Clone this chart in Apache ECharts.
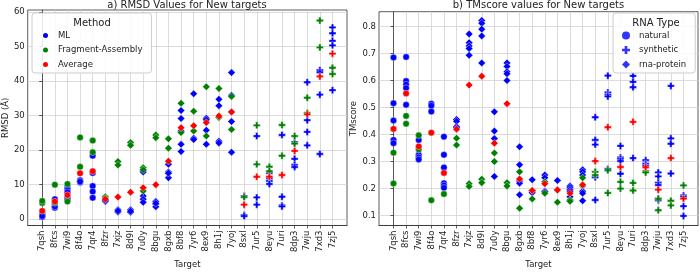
<!DOCTYPE html>
<html><head><meta charset="utf-8">
<script src="https://cdn.jsdelivr.net/npm/echarts@6/dist/echarts.min.js"></script>
<style>html,body{margin:0;padding:0;background:#fff}#c{width:700px;height:274px}</style>
</head><body><div id="c"></div>
<script>
const categories = ['7qsh','8fcs','7wi9','8f4o','7qr4','8fzr','7xjz','8d9l','7u0y','8bgu','8gxb','8bf8','7yr6','8ex9','8h1j','7yoj','8sxl','7ur5','8eyu','7uri','8dp3','7wju','7xd3','7zj5'];
const rnaTypes = ['natural','natural','natural','natural','natural','rna-protein','rna-protein','rna-protein','rna-protein','rna-protein','rna-protein','rna-protein','rna-protein','rna-protein','rna-protein','rna-protein','synthetic','synthetic','synthetic','synthetic','synthetic','synthetic','synthetic','synthetic'];

const rmsdML = [
[1.5,1.0,0.5,0.8],[5.7,4.3,3.2,3.6],[9.2,8.4,7.7,6.1,5.6],[11.2,10.5,10.8],[18.3,13.3,9.5,7.9,6.1],
[5.0,5.3],[2.6,2.0,2.3],[2.6,1.9,2.2],[14.0,13.6,6.6,5.7,4.8],[5.0,4.2,3.5,4.5],[15.8,13.6,11.9,13.2],
[31.4,29.1,25.5,21.6,19.5],[36.3,23.4,23.0],[29.2,28.7,25.7,21.6],[34.7,32.8,22.5,22.0],[42.4,35.8,31.0,28.2,19.3],
[6.6,1.1,0.8],[24.0,6.2,4.1],[13.3,11.7,11.0,10.1],[24.3,6.4,3.9,3.6],[22.2,17.4,15.6,15.0],[39.6,28.6,25.2,21.3],
[43.1,42.5,36.0,18.8],[55.5,53.8,51.6,50.3,37.3]
];
const rmsdFA = [
[4.6,5.2],[9.9,4.6],[10.1,5.0],[23.6,15.1],[22.7,19.3],[6.4,6.0],[16.6,15.6],[22.1,21.3],[14.8,14.2,8.1],[24.3,23.5],
[23.2,20.5],[33.5,25.0],[31.2,25.5],[38.3,24.0],[37.8,29.4],[35.5,25.9],[6.3],[27.1,15.8],[15.1,13.8],[27.2,18.3],
[24.0,21.8],[35.1,30.7],[57.5,49.7],[43.8,42.0]
];
const rmsdAvg = [2.3,5.0,6.9,13.2,13.8,5.7,6.3,7.7,9.0,9.9,16.7,26.4,27.0,27.9,29.8,31.0,4.1,12.2,12.2,12.7,19.7,30.3,41.3,47.9];

const tmML = [
[0.685,0.516,0.452,0.38,0.368],[0.687,0.598,0.585,0.572,0.51],[0.38,0.325,0.316,0.308],[0.514,0.507,0.485],
[0.392,0.325,0.278,0.22,0.212,0.203],[0.456,0.449,0.43,0.425],[0.772,0.74,0.728,0.718,0.693],[0.822,0.812,0.79,0.765,0.665],
[0.484,0.413,0.385,0.245],[0.665,0.652,0.632,0.625,0.6],[0.355,0.288,0.228,0.22,0.177],[0.233,0.19,0.185],
[0.25,0.24,0.19,0.188],[0.23,0.196],[0.21,0.205,0.197,0.19,0.17,0.155],[0.27,0.262,0.25,0.19,0.183,0.155],
[0.464,0.38,0.363,0.242,0.158],[0.618,0.556,0.548,0.541,0.273],[0.358,0.315,0.31,0.302,0.255],[0.617,0.595,0.575,0.313],
[0.305,0.292,0.285],[0.26,0.245,0.222,0.213,0.163,0.157],[0.58,0.386,0.366,0.256],[0.175,0.17,0.135,0.099]
];
const tmFA = [
[0.333,0.219],[0.469,0.44],[0.397,0.345],[0.157],[0.18],[0.386,0.361],[0.218,0.208],[0.235,0.222],[0.332,0.3],[0.222,0.21],
[0.262,0.127],[0.193,0.162],[0.225,0.183],[0.195,0.15],[0.158,0.153],[0.24,0.21],[0.262,0.25],[0.268,0.184],[0.225,0.2],
[0.221,0.193],[0.265,0.26],[0.162,0.12],[0.155,0.138],[0.212]
];
const tmAvg = [0.421,0.552,0.356,0.407,0.258,0.42,0.583,0.616,0.368,0.514,0.236,0.193,0.218,0.195,0.183,0.214,0.302,0.427,0.28,0.447,0.279,0.196,0.313,0.163];

const rmsdTicks = [0,10,20,30,40,50,60];
const tmTicks = [0.1,0.2,0.3,0.4,0.5,0.6,0.7,0.8];
const methods = ['ML','Fragment-Assembly','Average'];
const rnaTypeNames = ['natural','synthetic','rna-protein'];

const FONT = 'DejaVu Sans';
const COLORS = {'ML':'#0000ff','Fragment-Assembly':'#008000','Average':'#ff0000'};
const PLUS = 'path://M2,0H4V2H6V4H4V6H2V4H0V2H2Z';
const SYM = {'natural':'circle','synthetic':PLUS,'rna-protein':'diamond'};
const SZ = {'natural':6.5,'synthetic':7,'rna-protein':7.5};
const idx = categories.map((c,i)=>i);
const GRIDC = '#d2d2d2';

function pts(groups){
  const out=[];
  groups.forEach((g,i)=>{ (Array.isArray(g)?g:[g]).forEach(v=>{
    out.push({value:[i,v], symbol:SYM[rnaTypes[i]], symbolSize:SZ[rnaTypes[i]]});
  });});
  return out;
}
function xAxis(gi){
  return {type:'value', gridIndex:gi, min:-1.15, max:categories.length-1+1.15,
    axisLine:{show:true,onZero:false,lineStyle:{color:'#333',width:0.8}},
    axisTick:{show:true,customValues:idx,length:3,lineStyle:{color:'#333',width:0.8}},
    axisLabel:{customValues:idx,formatter:v=>categories[Math.round(v)],rotate:90,fontSize:8.5,color:'#222',margin:5,fontFamily:FONT},
    splitLine:{show:false},
    name:'Target',nameLocation:'middle',nameGap:25,nameTextStyle:{fontSize:8.5,color:'#222',fontFamily:FONT}};
}
function yAxis(gi,min,max,ticks,name,gap,fmt){
  return {type:'value', gridIndex:gi, min:min, max:max,
    axisLine:{show:true,lineStyle:{color:'#333',width:0.8}},
    axisTick:{show:true,customValues:ticks,length:3,lineStyle:{color:'#333',width:0.8}},
    axisLabel:{customValues:ticks,formatter:fmt,fontSize:8.5,color:'#222',margin:3,fontFamily:FONT},
    splitLine:{show:false},
    name:name,nameLocation:'middle',nameRotate:90,nameGap:gap,nameTextStyle:{fontSize:8.5,color:'#222',fontFamily:FONT}};
}
function gridSeries(gi,ticks){
  return {type:'scatter',name:'grid'+gi,xAxisIndex:gi,yAxisIndex:gi,data:[],silent:true,z:0,zlevel:0,
    markLine:{silent:true,z:0,symbol:['none','none'],label:{show:false},animation:false,
      lineStyle:{color:GRIDC,width:0.8,type:'solid'},emphasis:{disabled:true},
      data:[].concat(idx.map(i=>({xAxis:i})),ticks.map(v=>({yAxis:v})))}};
}
function methodSeries(gi,ml,fa,avg){
  return [['ML',ml],['Fragment-Assembly',fa],['Average',avg]].map(([n,d])=>({
    type:'scatter', name:n, xAxisIndex:gi, yAxisIndex:gi, data:pts(d),
    itemStyle:{color:COLORS[n],borderColor:'#fff',borderWidth:0.4,opacity:1}, z:6
  }));
}
const series = [].concat(
  [gridSeries(0,rmsdTicks),gridSeries(1,tmTicks)],
  methodSeries(0,rmsdML,rmsdFA,rmsdAvg),
  methodSeries(1,tmML,tmFA,tmAvg),
  rnaTypeNames.map(t=>({type:'scatter',name:t,xAxisIndex:1,yAxisIndex:1,data:[],symbol:SYM[t],symbolSize:SZ[t],itemStyle:{color:'#0000ff'}}))
);
const legendBase = {orient:'vertical',itemWidth:8,itemHeight:8,itemGap:3.5,
  textStyle:{fontSize:8.5,color:'#222',fontFamily:FONT,lineHeight:11,padding:[0,0,0,4]},
  backgroundColor:'rgba(255,255,255,0.85)',borderColor:'#cccccc',borderWidth:1,borderRadius:3,
  selectedMode:false,z:10};
const chart = echarts.init(document.getElementById('c'),null,{renderer:'canvas'});
chart.setOption({
  animation:false,
  backgroundColor:'#ffffff',
  title:[
    {text:'a) RMSD Values for New targets',left:187,top:0,textAlign:'center',padding:0,textStyle:{fontSize:10,fontWeight:'normal',color:'#222',fontFamily:FONT}},
    {text:'b) TMscore values for New targets',left:538.5,top:0,textAlign:'center',padding:0,textStyle:{fontSize:10,fontWeight:'normal',color:'#222',fontFamily:FONT}},
    {text:'Method',left:92,top:18,textAlign:'center',padding:0,z:12,textStyle:{fontSize:10,fontWeight:'normal',color:'#222',fontFamily:FONT}},
    {text:'RNA Type',left:656,top:18,textAlign:'center',padding:0,z:12,textStyle:{fontSize:10,fontWeight:'normal',color:'#222',fontFamily:FONT}}
  ],
  grid:[
    {left:27,top:10,width:320,height:227,show:true,borderColor:'#333',borderWidth:0.8,backgroundColor:'transparent'},
    {left:379,top:11.7,width:319,height:226,show:true,borderColor:'#333',borderWidth:0.8,backgroundColor:'transparent'}
  ],
  xAxis:[xAxis(0),xAxis(1)],
  yAxis:[
    yAxis(0,-1.93,60.55,rmsdTicks,'RMSD (Å)',15,v=>String(Math.round(v))),
    yAxis(1,0.0636,0.8545,tmTicks,'TMscore',17,v=>v.toFixed(1))
  ],
  legend:[
    Object.assign({},legendBase,{data:methods,left:32,top:13,icon:'circle',itemWidth:7,itemHeight:7,padding:[17,9,3,9]}),
    Object.assign({},legendBase,{data:rnaTypeNames,left:613,top:13,padding:[17,9,3,9]})
  ],
  series:series
});
</script></body></html>
